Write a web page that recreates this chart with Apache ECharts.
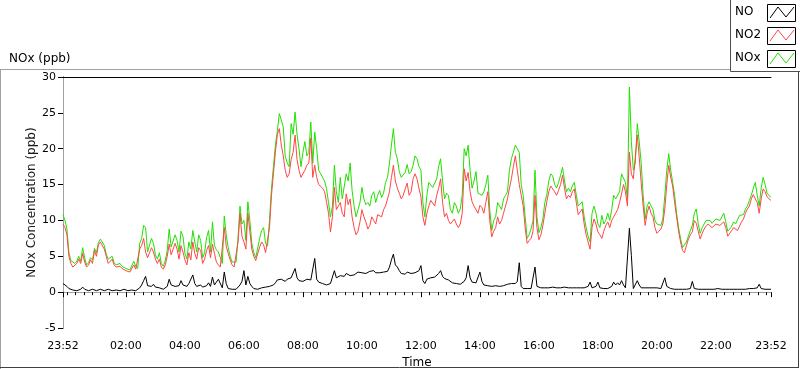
<!DOCTYPE html>
<html><head><meta charset="utf-8">
<script src="https://cdn.jsdelivr.net/npm/echarts@6/dist/echarts.min.js"></script>
<style>html,body{margin:0;padding:0;background:#fff}#c{width:800px;height:369px}</style>
</head><body><div id="c"></div>
<script>
// Minutes since 23:52. "A" arrays are readings at 0, 8, 16 ... min; "B" arrays at 4, 12, 20 ... min.
const stepMinutes = 8;
const NO2_A = [9.5,8.0,4.0,3.6,4.6,5.4,3.5,4.5,5.8,6.6,
7.2,5.0,4.2,3.8,3.4,3.3,3.0,2.8,3.8,3.0,
6.5,5.6,5.0,5.6,4.0,3.5,3.8,6.7,5.0,6.0,
6.5,4.5,5.5,7.0,4.6,5.8,4.6,6.5,6.7,4.2,
3.5,9.0,5.4,3.8,3.7,11.0,7.0,11.0,6.0,4.4,
6.3,6.6,5.5,13.5,19.5,22.8,19.0,16.0,18.5,21.9,
17.0,15.8,17.7,21.5,17.7,15.0,14.5,12.6,8.4,14.6,
11.4,11.0,13.7,13.0,9.0,8.5,11.5,9.8,9.3,10.0,
10.8,10.5,12.0,14.0,17.7,14.5,13.0,14.4,13.5,15.8,
15.8,13.3,9.3,12.0,12.6,13.5,15.8,10.5,10.0,9.7,
9.5,9.5,17.2,16.7,12.6,11.8,12.1,11.0,14.0,7.7,
9.0,9.5,11.0,13.0,15.8,19.0,15.0,12.0,6.8,7.5,
13.5,7.3,9.3,12.6,14.8,14.0,14.2,16.3,13.0,13.2,
14.4,10.8,11.6,8.0,6.0,10.2,8.4,7.5,9.3,9.0,
10.5,11.5,13.7,14.0,19.5,15.8,21.9,15.2,9.3,12.0,
10.5,8.2,8.8,11.6,17.7,14.8,10.5,7.0,5.5,7.4,
8.4,9.6,7.4,8.8,9.5,9.0,9.5,9.3,9.8,7.8,
8.6,8.8,8.8,10.2,11.6,13.0,13.0,11.0,14.4,13.3,12.8];
const NO2_B = [9.0,5.0,3.5,4.0,4.0,4.2,3.8,4.0,5.0,7.0,
6.0,4.0,4.6,3.5,3.6,3.1,3.2,2.7,3.2,6.0,
7.5,4.8,6.2,4.6,4.6,3.2,5.0,5.2,6.8,4.6,
5.6,3.8,4.5,5.4,6.2,4.0,5.8,4.8,5.4,3.8,
3.3,6.4,4.5,3.5,7.0,7.8,6.0,8.5,5.0,4.6,
7.0,5.5,9.0,16.5,22.0,20.5,17.0,16.5,19.5,18.5,
16.0,17.0,18.0,16.0,16.0,15.2,14.0,11.0,10.5,11.5,
12.5,10.5,12.2,10.5,8.0,9.8,10.5,8.8,10.5,9.5,
11.0,11.5,13.0,16.0,15.5,13.8,13.5,15.2,14.0,16.5,
14.5,10.5,11.0,12.8,12.0,14.5,12.5,11.0,9.5,10.2,
9.0,11.0,15.5,14.0,12.0,11.0,11.8,12.5,10.0,8.5,
10.5,10.0,12.0,14.5,17.5,17.0,13.5,9.0,7.2,8.5,
9.0,8.0,11.0,14.0,15.0,13.5,15.0,14.5,13.5,14.0,
12.5,11.0,9.5,7.0,9.0,9.5,8.0,8.5,9.8,10.0,
11.0,12.5,15.0,12.0,16.5,16.0,18.8,12.0,11.0,11.0,
9.0,8.5,9.5,15.0,16.0,12.5,8.5,5.8,6.5,8.0,
10.0,8.5,8.2,9.2,9.3,9.2,9.6,9.5,9.0,8.2,
9.0,8.6,9.8,11.0,12.0,13.6,12.5,13.0,14.0,13.0];
const NO_A = [1.2,0.8,0.4,0.3,0.3,0.7,0.3,0.3,0.3,0.3,
0.3,0.3,0.3,0.3,0.3,0.3,0.3,0.3,0.4,0.3,
1.0,2.2,0.8,1.1,0.6,0.5,0.6,1.8,1.0,1.0,
1.6,0.9,1.2,2.4,0.8,1.0,0.6,1.3,2.1,1.4,
1.9,2.8,0.5,0.4,0.4,1.0,3.0,2.2,0.8,0.4,
0.6,0.7,0.8,0.9,1.3,1.9,1.7,1.8,2.0,3.3,
1.6,1.5,1.8,1.7,4.7,1.4,1.2,1.0,1.2,3.0,
2.2,2.3,2.6,2.3,2.4,2.8,2.7,2.6,2.9,3.0,
2.6,2.8,2.7,3.5,5.3,3.5,2.6,2.5,2.8,2.7,
2.8,3.7,1.2,2.0,2.0,2.2,3.0,1.9,1.7,1.3,
1.2,1.1,1.5,3.7,1.4,1.3,2.8,1.0,0.9,0.8,
0.9,0.8,0.9,1.1,1.2,1.2,4.1,0.5,0.5,0.5,
3.5,0.6,0.6,0.6,0.7,0.6,0.6,0.6,0.7,0.6,
0.6,0.6,0.6,0.6,1.4,0.5,1.4,0.4,0.4,0.4,
1.4,1.3,1.6,0.6,8.9,0.5,1.6,0.6,0.6,0.6,
0.6,0.6,0.5,2.0,0.6,0.4,0.4,0.4,0.4,0.4,
1.5,0.5,0.4,0.4,0.4,0.4,0.5,0.4,0.5,0.4,
0.5,0.4,0.4,0.5,0.4,0.5,0.6,1.1,0.4,0.4,0.4];
const NO_B = [1.0,0.5,0.3,0.2,0.4,0.4,0.2,0.4,0.2,0.4,
0.2,0.4,0.2,0.3,0.2,0.4,0.2,0.3,0.2,0.6,
1.6,0.9,0.8,0.7,0.6,0.4,0.8,1.0,0.8,0.9,
1.0,0.8,1.0,1.2,0.9,0.7,0.9,0.8,1.0,1.8,
0.6,1.2,0.4,0.4,0.5,1.5,1.0,1.2,0.5,0.4,
0.6,0.7,0.8,1.0,1.7,1.8,1.5,1.6,2.2,2.0,
1.6,1.7,1.6,1.6,1.8,1.3,1.1,1.0,1.1,2.0,
2.3,2.2,2.4,2.2,2.3,2.7,2.6,2.7,2.8,2.7,
2.7,2.8,2.9,4.5,3.8,3.0,2.6,2.8,2.6,2.7,
3.0,1.6,1.8,2.0,2.1,2.6,2.2,1.8,1.6,1.3,
1.2,1.2,2.0,2.0,1.3,1.5,1.5,1.0,0.9,0.9,
0.9,0.8,1.0,1.2,1.2,1.5,0.8,0.5,0.5,0.6,
0.8,0.6,0.6,0.6,0.7,0.6,0.6,0.7,0.6,0.6,
0.6,0.6,0.6,0.8,0.6,0.8,0.6,0.5,0.5,0.8,
1.0,1.0,1.0,0.6,5.1,0.7,1.0,0.6,0.6,0.6,
0.6,0.5,0.6,0.8,0.5,0.4,0.4,0.4,0.4,0.5,
0.5,0.4,0.4,0.4,0.4,0.4,0.5,0.4,0.4,0.4,
0.4,0.4,0.4,0.4,0.5,0.5,0.6,0.5,0.4,0.4];
const NOx_A = [10.8,8.8,4.4,4.0,5.0,6.2,3.8,4.8,6.1,6.9,
7.5,5.3,4.5,4.1,3.7,3.6,3.3,3.1,4.3,3.3,
7.5,9.0,5.8,6.8,4.6,4.0,4.4,8.8,6.2,7.2,
8.5,5.4,7.0,8.6,5.6,7.2,5.5,8.6,9.8,5.9,
5.7,10.6,6.2,4.2,4.2,12.0,10.0,12.6,6.8,4.8,
7.5,9.0,6.4,14.4,20.5,24.9,23.0,18.0,23.5,25.1,
20.0,19.5,19.0,23.7,22.3,17.0,16.5,14.4,10.5,17.7,
12.5,13.0,16.5,18.0,12.0,11.5,14.6,12.2,12.0,14.0,
13.5,13.2,15.3,18.0,22.8,18.6,16.0,16.7,16.5,17.7,
18.6,17.0,10.5,15.3,14.6,15.8,18.6,13.0,13.5,11.0,
12.0,11.6,20.0,20.5,14.5,16.8,13.6,14.0,16.3,8.6,
10.5,12.0,13.0,14.0,18.6,20.5,19.5,13.5,7.5,8.8,
17.0,8.3,10.2,13.6,16.5,15.0,15.3,17.4,14.0,14.0,
15.3,12.0,12.6,9.0,7.0,12.0,9.5,10.7,10.0,10.0,
13.5,13.0,16.5,15.3,28.6,17.0,23.5,18.0,10.2,12.6,
11.5,9.5,9.3,13.5,19.3,15.3,11.0,7.5,6.0,7.8,
9.3,11.6,8.2,9.5,10.2,9.6,10.2,10.0,11.0,8.5,
9.2,9.5,10.7,10.8,12.0,13.5,15.3,12.0,16.0,13.8,13.2];
const NOx_B = [10.0,5.5,4.3,4.3,4.3,4.8,4.1,4.5,5.5,7.4,
6.5,4.6,5.0,3.8,4.0,3.4,3.5,3.0,3.6,6.8,
9.3,5.6,7.5,5.2,5.5,3.6,5.8,6.3,8.0,5.6,
7.8,4.6,6.0,7.0,8.0,4.8,7.6,5.6,6.5,5.6,
4.0,8.0,5.0,4.0,7.5,9.5,7.2,10.0,5.5,5.0,
8.6,6.8,10.0,17.5,22.5,24.0,19.0,17.5,22.0,22.0,
17.5,21.0,19.5,18.0,20.0,16.5,15.5,12.5,12.0,14.0,
16.0,13.0,15.5,14.2,10.5,12.5,13.0,12.5,13.5,12.5,
14.2,13.8,16.0,20.5,19.5,16.8,15.8,17.8,16.8,19.0,
17.5,12.5,13.5,15.5,14.5,17.5,15.5,13.8,11.5,12.5,
11.0,13.5,19.0,17.0,15.5,13.8,13.5,15.0,11.5,10.0,
12.5,11.5,13.5,17.0,19.5,20.0,15.0,10.5,8.0,10.0,
10.5,9.0,12.5,15.5,16.2,14.5,16.3,15.5,14.5,14.8,
13.5,12.0,10.5,7.8,11.0,11.0,9.0,9.5,11.0,11.5,
13.0,14.0,16.5,13.0,21.0,18.0,21.0,13.5,12.0,12.0,
10.0,9.5,10.2,17.0,17.0,13.5,9.0,6.2,7.0,8.6,
11.0,9.5,9.0,10.0,10.0,9.8,10.4,10.2,9.8,8.8,
9.8,9.4,10.5,11.6,12.8,14.5,13.5,14.5,15.0,13.5];
const yTicks = [-5, 0, 5, 10, 15, 20, 25, 30];
const xTickMinutes = [0, 128, 248, 368, 488, 608, 728, 848, 968, 1088, 1208, 1328, 1440];
const xTickLabels = ['23:52','02:00','04:00','06:00','08:00','10:00','12:00','14:00','16:00','18:00','20:00','22:00','23:52'];
const seriesNames = ['NO', 'NO2', 'NOx'];

const font = 'DejaVu Sans';
function merge(a, b) {
  const out = [];
  a.forEach((v, i) => {
    out.push([i * stepMinutes, v]);
    if (i < b.length) out.push([i * stepMinutes + stepMinutes / 2, b[i]]);
  });
  return out;
}
const minorTicks = [];
for (let k = 0; 8 + k * 120 / 7 < 1440; k++) minorTicks.push(8 + k * 120 / 7);

const colors = { NO: '#000000', NO2: '#ff4646', NOx: '#22e000' };

const legendItems = [];
seriesNames.forEach((n, i) => {
  const y0 = 4 + i * 23;
  legendItems.push({ type: 'text', left: 735, top: y0 + 2, style: { text: n, font: '12px ' + font, fill: '#000' } });
  legendItems.push({ type: 'rect', shape: { x: 767.5, y: y0 + 0.5, width: 28, height: 17 }, style: { fill: '#fff', stroke: '#000', lineWidth: 1 } });
  legendItems.push({ type: 'polyline', shape: { points: [[770, y0 + 14], [778, y0 + 3], [786, y0 + 13], [794, y0 + 3]] }, style: { stroke: colors[n], lineWidth: 1, fill: null } });
});

const chart = echarts.init(document.getElementById('c'), null, { renderer: 'canvas' });
chart.setOption({
  animation: false,
  backgroundColor: '#fff',
  textStyle: { fontFamily: font },
  title: { text: 'NOx (ppb)', left: 4, top: 48, textStyle: { fontFamily: font, fontSize: 12, fontWeight: 'normal', color: '#000' } },
  grid: { left: 63, top: 77, width: 708, height: 251, containLabel: false, outerBoundsMode: 'none' },
  xAxis: [
    { type: 'value', min: 0, max: 1440, position: 'bottom',
      axisLine: { show: true, lineStyle: { color: '#a0a0a0', width: 1 } },
      axisTick: { show: true, length: 5, inside: false, customValues: xTickMinutes, lineStyle: { color: '#000' } },
      axisLabel: { show: true, customValues: xTickMinutes, margin: 13, color: '#000', fontSize: 11, fontFamily: font,
        showMinLabel: true, showMaxLabel: true,
        formatter: v => xTickLabels[xTickMinutes.indexOf(Math.round(v))] || '' },
      splitLine: { show: false },
      name: 'Time', nameLocation: 'middle', nameGap: 28, nameTextStyle: { color: '#000', fontSize: 12, fontFamily: font } },
    { type: 'value', min: 0, max: 1440, position: 'bottom',
      axisLine: { show: false },
      axisTick: { show: true, length: 3, customValues: minorTicks, lineStyle: { color: '#000' } },
      axisLabel: { show: false }, splitLine: { show: false } },
    { type: 'value', min: 0, max: 1440, position: 'top',
      axisLine: { show: true, lineStyle: { color: '#000', width: 1 } },
      axisTick: { show: false }, axisLabel: { show: false }, splitLine: { show: false } }
  ],
  yAxis: [
    { type: 'value', min: -5, max: 30, interval: 5, position: 'left',
      axisLine: { show: true, lineStyle: { color: '#000', width: 1 } },
      axisTick: { show: true, length: 5, lineStyle: { color: '#000' } },
      axisLabel: { color: '#000', fontSize: 11, fontFamily: font, margin: 7, customValues: yTicks },
      splitLine: { show: false },
      name: 'NOx Concentration (ppb)', nameLocation: 'middle', nameRotate: 90, nameGap: 25, nameMoveOverlap: false,
      nameTextStyle: { color: '#1a1a1a', fontSize: 12, fontFamily: font } },
    { type: 'value', min: -5, max: 30, position: 'right',
      axisLine: { show: true, lineStyle: { color: '#a0a0a0', width: 1 } },
      axisTick: { show: false }, axisLabel: { show: false }, splitLine: { show: false } }
  ],
  series: [
    { name: 'NOx', type: 'line', data: merge(NOx_A, NOx_B), showSymbol: false, lineStyle: { color: colors.NOx, width: 1 }, itemStyle: { color: colors.NOx } },
    { name: 'NO2', type: 'line', data: merge(NO2_A, NO2_B), showSymbol: false, lineStyle: { color: colors.NO2, width: 1 }, itemStyle: { color: colors.NO2 } },
    { name: 'NO', type: 'line', data: merge(NO_A, NO_B), showSymbol: false, lineStyle: { color: colors.NO, width: 1 }, itemStyle: { color: colors.NO } }
  ],
  graphic: [
    { type: 'line', shape: { x1: 0, y1: 69.5, x2: 730, y2: 69.5 }, style: { stroke: '#a0a0a0', lineWidth: 1 } },
    { type: 'line', shape: { x1: 0.5, y1: 69.5, x2: 0.5, y2: 369 }, style: { stroke: '#a0a0a0', lineWidth: 1 } },
    { type: 'line', shape: { x1: 0, y1: 367.5, x2: 799, y2: 367.5 }, style: { stroke: '#404040', lineWidth: 1 } },
    { type: 'line', shape: { x1: 798.5, y1: 71.5, x2: 798.5, y2: 368 }, style: { stroke: '#404040', lineWidth: 1 } },
    { type: 'rect', shape: { x: 730.5, y: -1, width: 70, height: 72.5 }, style: { fill: '#fff', stroke: '#505050', lineWidth: 1 } },
    ...legendItems
  ]
});
</script></body></html>
